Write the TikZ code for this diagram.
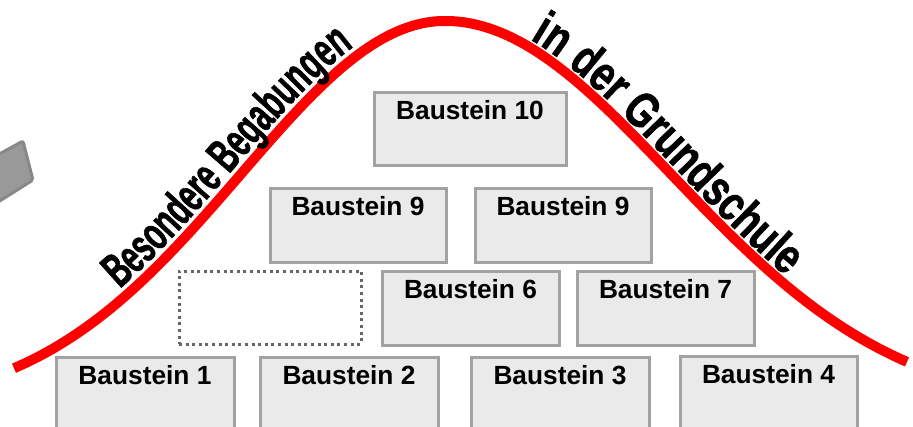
\documentclass[tikz,border=0pt]{standalone}
\usepackage{fontspec}
\setmainfont{Liberation Sans}
\newfontfamily\wafontL[FakeStretch=0.61, FakeBold=1.2]{Liberation Sans Bold}
\newfontfamily\wafontR[FakeStretch=0.76, FakeBold=1.2]{Liberation Sans Bold}
\usetikzlibrary{decorations.text}
\definecolor{boxfill}{HTML}{EAEAEA}
\definecolor{boxline}{HTML}{A2A2A2}
\definecolor{dotline}{HTML}{666666}
\definecolor{slabfill}{HTML}{999999}
\definecolor{slabline}{HTML}{888888}
\tikzset{
  bst/.style={draw=boxline, fill=boxfill, line width=3pt, rectangle, inner sep=0pt, anchor=north west},
  emptybox/.style={draw=dotline, line width=3pt, dash pattern=on 3pt off 3.6pt, rectangle, inner sep=0pt, anchor=north west},
  lbl/.style={font=\bfseries\fontsize{26.3}{28}\selectfont, anchor=base, inner sep=0pt},
  bell/.style={draw=red, line width=10pt},
}
% left and right halves of the bell curve (x in px, y downwards)
\pgfmathdeclarefunction{bellleft}{1}{\pgfmathparse{410-389*exp(-((#1-445)/100)^2/8.3232)}}
\pgfmathdeclarefunction{bellright}{1}{\pgfmathparse{410-389*exp(-((#1-445)/100)^2/10.2152)}}
\begin{document}
\begin{tikzpicture}[x=1pt,y=-1pt]
\clip (0,0) rectangle (913,426);
\fill[white] (0,0) rectangle (913,426);
% grey slab at the left edge
\draw[fill=slabfill, draw=slabline, line width=3pt, rounded corners=2pt]
  (23,141) -- (33,180) -- (-40,226) -- (-50,181) -- cycle;
% boxes
\node[bst, minimum width=192pt, minimum height=73pt] (b10) at (372.5,90.5) {};
\node[bst, minimum width=176pt, minimum height=74pt] (b9a) at (268.5,186.5) {};
\node[bst, minimum width=176pt, minimum height=74pt] (b9b) at (473.5,186.5) {};
\node[emptybox, minimum width=182pt, minimum height=73pt] (b5) at (177.5,269.5) {};
\node[bst, minimum width=177pt, minimum height=74pt] (b6) at (380.5,269.5) {};
\node[bst, minimum width=177pt, minimum height=74pt] (b7) at (575.5,269.5) {};
\node[bst, minimum width=178pt, minimum height=100pt] (b1) at (54.5,355.5) {};
\node[bst, minimum width=178pt, minimum height=100pt] (b2) at (258.5,355.5) {};
\node[bst, minimum width=178pt, minimum height=100pt] (b3) at (469.5,355.5) {};
\node[bst, minimum width=177pt, minimum height=100pt] (b4) at (678.5,354.5) {};
% labels
\node[lbl] (t10) at ([yshift=-29pt]b10.north) {Baustein 10};
\node[lbl] (t9a) at ([yshift=-29pt]b9a.north) {Baustein 9};
\node[lbl] (t9b) at ([yshift=-29pt]b9b.north) {Baustein 9};
\node[lbl] (t6) at ([yshift=-29pt]b6.north) {Baustein 6};
\node[lbl] (t7) at ([yshift=-29pt]b7.north) {Baustein 7};
\node[lbl] (t1) at ([yshift=-29pt]b1.north) {Baustein 1};
\node[lbl] (t2) at ([yshift=-29pt]b2.north) {Baustein 2};
\node[lbl] (t3) at ([yshift=-29pt]b3.north) {Baustein 3};
\node[lbl] (t4) at ([yshift=-29pt]b4.north) {Baustein 4};
% bell curve
\draw[bell, line join=round]
  plot[domain=14:445, samples=90, variable=\t] (\t, {bellleft(\t)})
  -- plot[domain=445:907, samples=90, variable=\t] (\t, {bellright(\t)});
% curved texts
\path[decorate, decoration={text along path, raise=9pt,
   text align={left indent=134pt},
   text={|\wafontL\fontsize{48}{48}\selectfont|Besondere Begabungen}}]
  plot[domain=14:445, samples=90, variable=\t] (\t, {bellleft(\t)})
  -- plot[domain=445:520, samples=20, variable=\t] (\t, {bellright(\t)});
\path[decorate, decoration={text along path, raise=7pt,
   text align={left indent=86pt},
   text={|\wafontR\fontsize{50}{50}\selectfont|in der Grundschule}}]
  plot[domain=445:907, samples=90, variable=\t] (\t, {bellright(\t)});
\end{tikzpicture}
\end{document}
